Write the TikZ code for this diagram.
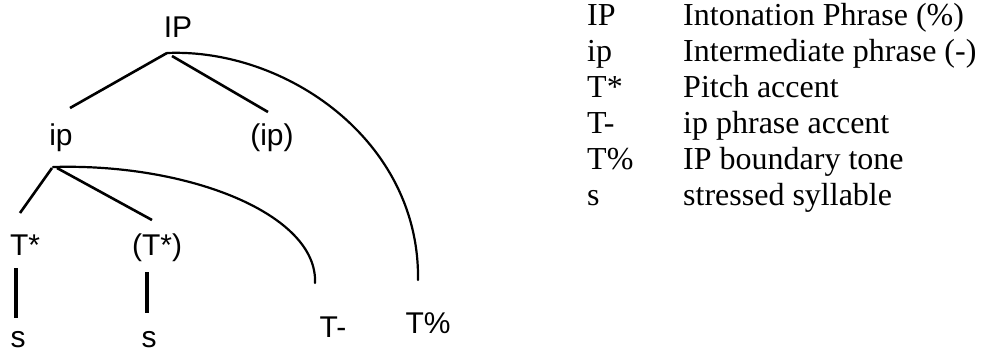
\documentclass[tikz,border=0pt]{standalone}
\usepackage{fontspec}
\setmainfont{Liberation Serif}
\newfontfamily\treefont{Liberation Sans}
\usetikzlibrary{calc}
\tikzset{
  treelabel/.style={inner sep=0pt, anchor=base, font=\treefont\fontsize{30}{36}\selectfont},
  legkey/.style={inner sep=0pt, anchor=base west, font=\fontsize{32}{36}\selectfont},
  branch/.style={line width=2.6pt},
  stem/.style={line width=3.4pt},
  arcline/.style={line width=2.2pt, line cap=round},
}
\begin{document}
\begin{tikzpicture}[x=1pt,y=-1pt]
\useasboundingbox (0,0) rectangle (981,356);
% tree labels
\node[treelabel] (IP) at (178,37) {IP};
\node[treelabel] (ip) at (61,145) {ip};
\node[treelabel] (ipo) at (272,145) {(ip)};
\node[treelabel] (Ts) at (25,255) {T*};
\node[treelabel] (Tso) at (157,255) {(T*)};
\node[treelabel] (s1) at (18,347) {s};
\node[treelabel] (s2) at (149,347) {s};
\node[treelabel] (Tm) at (333,337) {T-};
\node[treelabel] (Tp) at (428,333) {T\%};
% branches
\draw[branch] ($(IP.base)+(-11,16)$) -- ($(ip.base)+(9,-37)$);
\draw[branch] ($(IP.base)+(-6,19)$) -- ($(ipo.base)+(-4,-33)$);
\draw[arcline] ($(IP.base)+(-11,16)$) .. controls (285,48) and (420,140) .. ($(Tp.base)+(-10,-53)$);
\draw[branch] ($(ip.base)+(-9,23)$) -- ($(Ts.base)+(-5,-42)$);
\draw[branch] ($(ip.base)+(-4,23)$) -- ($(Tso.base)+(-5,-35)$);
\draw[arcline] ($(ip.base)+(-8,22)$) .. controls (190,163) and (318,215) .. ($(Tm.base)+(-18,-54)$);
\draw[stem] ($(Ts.base)+(-9,13)$) -- ($(s1.base)+(-2,-29)$);
\draw[stem] ($(Tso.base)+(-10,17)$) -- ($(s2.base)+(-2,-34)$);
% legend
\node[legkey] (k1) at (587,25) {IP};
\node[legkey] (d1) at (683,25) {Intonation Phrase (\%)};
\node[legkey] (k2) at (587,61) {ip};
\node[legkey] (d2) at (683,61) {Intermediate phrase (-)};
\node[legkey] (k3) at (587,97) {T*};
\node[legkey] (d3) at (683,97) {Pitch accent};
\node[legkey] (k4) at (587,133) {T-};
\node[legkey] (d4) at (683,133) {ip phrase accent};
\node[legkey] (k5) at (587,169) {T\%};
\node[legkey] (d5) at (683,169) {IP boundary tone};
\node[legkey] (k6) at (587,205) {s};
\node[legkey] (d6) at (683,205) {stressed syllable};
\end{tikzpicture}
\end{document}
